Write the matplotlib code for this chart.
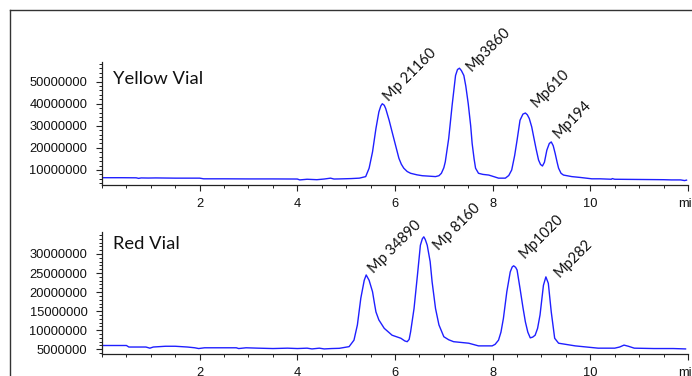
#!/usr/bin/env python3
"""Two stacked GPC chromatograms (Yellow vial / Red vial) with Mp peak labels."""

import matplotlib
matplotlib.use("Agg")
import matplotlib.pyplot as plt
import matplotlib.ticker as mtick
from matplotlib.lines import Line2D

# ---- data (time in min, signal in millions) ----
yellow_t = [0.00, 0.40, 0.70, 0.75, 0.80, 0.95, 1.10, 1.50, 2.00, 2.08, 2.50,
            3.00, 3.50, 4.00, 4.05, 4.20, 4.40, 4.55, 4.68, 4.75, 4.86, 5.10,
            5.27, 5.40, 5.47, 5.54, 5.61, 5.67, 5.71, 5.74, 5.78, 5.81, 5.88,
            5.94, 6.01, 6.08, 6.13, 6.18, 6.25, 6.32, 6.45, 6.56, 6.70, 6.83,
            6.90, 6.95, 7.00, 7.03, 7.10, 7.17, 7.24, 7.28, 7.32, 7.36, 7.41,
            7.45, 7.50, 7.55, 7.58, 7.62, 7.65, 7.71, 7.80, 7.92, 8.05, 8.12,
            8.26, 8.33, 8.39, 8.45, 8.50, 8.56, 8.62, 8.67, 8.71, 8.75, 8.80,
            8.84, 8.89, 8.94, 8.98, 9.02, 9.06, 9.11, 9.16, 9.20, 9.24, 9.28,
            9.32, 9.35, 9.40, 9.45, 9.62, 9.80, 10.03, 10.20, 10.43, 10.45,
            10.50, 11.00, 11.50, 11.66, 11.85, 11.93, 11.97]
yellow_sig = [6.5, 6.5, 6.45, 6.2, 6.4, 6.35, 6.4, 6.3, 6.3, 6.0, 6.0,
              5.95, 5.95, 5.9, 5.5, 5.8, 5.6, 5.9, 6.3, 5.9, 5.95, 6.1,
              6.3, 7.0, 10.8, 18.2, 28.8, 36.3, 39.0, 40.0, 39.3, 37.8, 32.5,
              27.3, 21.3, 15.3, 12.6, 10.8, 9.3, 8.5, 7.8, 7.4, 7.2, 7.0,
              7.4, 8.5, 11.0, 13.7, 24.3, 39.3, 52.8, 55.5, 56.1, 55.0, 52.8,
              48.0, 40.0, 30.0, 22.0, 15.0, 10.8, 8.5, 8.0, 7.7, 6.8, 6.3,
              6.3, 7.5, 10.0, 16.5, 23.5, 32.5, 35.3, 35.8, 35.0, 33.3, 29.5,
              25.0, 19.5, 14.5, 12.5, 11.8, 13.5, 19.0, 22.0, 22.7, 21.0, 17.5,
              13.5, 10.8, 8.5, 7.7, 7.0, 6.6, 6.0, 6.0, 5.8, 6.1,
              5.8, 5.7, 5.6, 5.5, 5.5, 5.2, 5.4]

red_t = [0.00, 0.50, 0.55, 0.90, 0.98, 1.05, 1.30, 1.50, 1.75, 1.90, 1.98,
         2.10, 2.50, 2.75, 2.80, 2.95, 3.20, 3.50, 3.80, 4.00, 4.20, 4.30,
         4.45, 4.55, 4.70, 4.86, 5.06, 5.16, 5.23, 5.30, 5.37, 5.41, 5.47,
         5.54, 5.58, 5.61, 5.67, 5.78, 5.94, 6.12, 6.20, 6.25, 6.29, 6.32,
         6.39, 6.46, 6.52, 6.56, 6.59, 6.62, 6.66, 6.72, 6.76, 6.83, 6.90,
         7.00, 7.10, 7.20, 7.51, 7.71, 7.99, 8.05, 8.12, 8.17, 8.22, 8.29,
         8.36, 8.40, 8.43, 8.47, 8.50, 8.56, 8.62, 8.67, 8.72, 8.77, 8.82,
         8.87, 8.92, 8.97, 9.04, 9.09, 9.14, 9.20, 9.27, 9.35, 9.69, 10.16,
         10.50, 10.60, 10.69, 10.78, 10.90, 11.30, 11.70, 11.95]
red_sig = [6.0, 6.0, 5.6, 5.6, 5.3, 5.6, 5.8, 5.8, 5.6, 5.4, 5.2,
           5.4, 5.4, 5.4, 5.2, 5.4, 5.3, 5.2, 5.3, 5.2, 5.3, 5.1,
           5.3, 5.1, 5.2, 5.26, 5.7, 7.4, 11.4, 18.4, 23.1, 24.5, 23.1,
           20.1, 17.0, 14.8, 12.7, 10.5, 8.7, 7.9, 7.2, 7.0, 7.6, 9.6,
           15.7, 24.5, 32.3, 34.0, 34.5, 33.8, 32.3, 28.0, 22.7, 15.7, 11.4,
           8.3, 7.5, 7.0, 6.6, 5.9, 5.9, 6.3, 7.4, 9.5, 13.1, 20.1,
           25.3, 26.6, 26.9, 26.5, 25.8, 21.0, 16.0, 12.2, 9.5, 8.0, 8.2,
           8.7, 10.5, 14.0, 21.8, 24.0, 22.3, 14.8, 7.9, 6.6, 5.9, 5.3,
           5.3, 5.6, 6.1, 5.8, 5.3, 5.2, 5.2, 5.1]

yellow_labels = ["Mp 21160", "Mp3860", "Mp610", "Mp194"]
yellow_peak_t = [5.74, 7.32, 8.67, 9.20]
yellow_peak_sig = [40.0, 56.1, 35.8, 22.7]

red_labels = ["Mp 34890", "Mp 8160", "Mp1020", "Mp282"]
red_peak_t = [5.41, 6.59, 8.43, 9.09]
red_peak_sig = [24.5, 34.5, 26.9, 24.0]

yellow_yticks = [10, 20, 30, 40, 50]
red_yticks = [5, 10, 15, 20, 25, 30]

x_ticks = [2, 4, 6, 8, 10, 12]
x_ticklabels = ["2", "4", "6", "8", "10", "min"]

# label offsets from the peak apex, in points (layout only)
yellow_offsets = [(5, 1.5), (8.5, -2.5), (8, 4), (5, 2.5)]
red_offsets = [(5.5, 1), (10.5, -10), (8, 5), (10, -1)]

LINE = "#1f1fff"
AXIS = "#222222"
TICK_FONT = "Liberation Sans"
TEXT_FONT = "Lato"


def style_axes(ax, ylim, yticks, yminor):
    ax.set_xlim(0, 12)
    ax.set_ylim(*ylim)
    for s in ("top", "right"):
        ax.spines[s].set_visible(False)
    for s in ("left", "bottom"):
        ax.spines[s].set_color(AXIS)
        ax.spines[s].set_linewidth(0.9)
    ax.set_xticks(x_ticks)
    ax.set_xticklabels(x_ticklabels)
    ax.xaxis.set_minor_locator(mtick.MultipleLocator(0.5))
    # the signal is in millions; tick labels show the raw counts
    ax.set_yticks(yticks)
    ax.set_yticklabels([f"{v * 1000000}" for v in yticks])
    ax.yaxis.set_minor_locator(mtick.MultipleLocator(yminor))
    ax.tick_params(axis="both", which="major", length=4.5, width=0.8,
                   color=AXIS, labelsize=9.3, labelcolor="#111111")
    ax.tick_params(axis="x", which="major", pad=5)
    ax.tick_params(axis="y", which="major", pad=6)
    ax.tick_params(axis="both", which="minor", length=2.5, width=0.7,
                   color=AXIS)
    for lab in ax.get_xticklabels() + ax.get_yticklabels():
        lab.set_fontfamily(TICK_FONT)
    ax.patch.set_visible(False)


def annotate_peaks(ax, labels, ts, sigs, offsets):
    for lab, t, s, off in zip(labels, ts, sigs, offsets):
        ax.annotate(lab, xy=(t, s), xytext=off, textcoords="offset points",
                    rotation=45, rotation_mode="anchor", ha="left",
                    va="baseline", fontsize=10.5, family=TEXT_FONT,
                    color="#111111", annotation_clip=False)


def main():
    fig = plt.figure(figsize=(6.92, 3.76), dpi=100)

    ax1 = fig.add_axes([0.1474, 0.5080, 0.8468, 0.3271])
    ax2 = fig.add_axes([0.1474, 0.0577, 0.8468, 0.3261])

    ax1.plot(yellow_t, yellow_sig, color=LINE, lw=1.0)
    ax2.plot(red_t, red_sig, color=LINE, lw=1.0)

    style_axes(ax1, (3.2, 58.9), yellow_yticks, 2)
    style_axes(ax2, (3.69, 35.85), red_yticks, 1)

    annotate_peaks(ax1, yellow_labels, yellow_peak_t, yellow_peak_sig,
                   yellow_offsets)
    annotate_peaks(ax2, red_labels, red_peak_t, red_peak_sig, red_offsets)

    ax1.text(0.019, 0.821, "Yellow Vial", transform=ax1.transAxes,
             ha="left", va="baseline", fontsize=13.2, family=TEXT_FONT,
             color="#111111")
    ax2.text(0.019, 0.859, "Red Vial", transform=ax2.transAxes,
             ha="left", va="baseline", fontsize=13.2, family=TEXT_FONT,
             color="#111111")

    # outer frame (only its top and left edges are inside the picture)
    fx, fy = 9.5 / 692, 1 - 9.5 / 376
    fig.add_artist(Line2D([fx, fx], [0, fy], transform=fig.transFigure,
                          color="#333333", lw=1.0))
    fig.add_artist(Line2D([fx, 1], [fy, fy], transform=fig.transFigure,
                          color="#333333", lw=1.0))

    fig.savefig("out.png", dpi=100)


if __name__ == "__main__":
    main()
